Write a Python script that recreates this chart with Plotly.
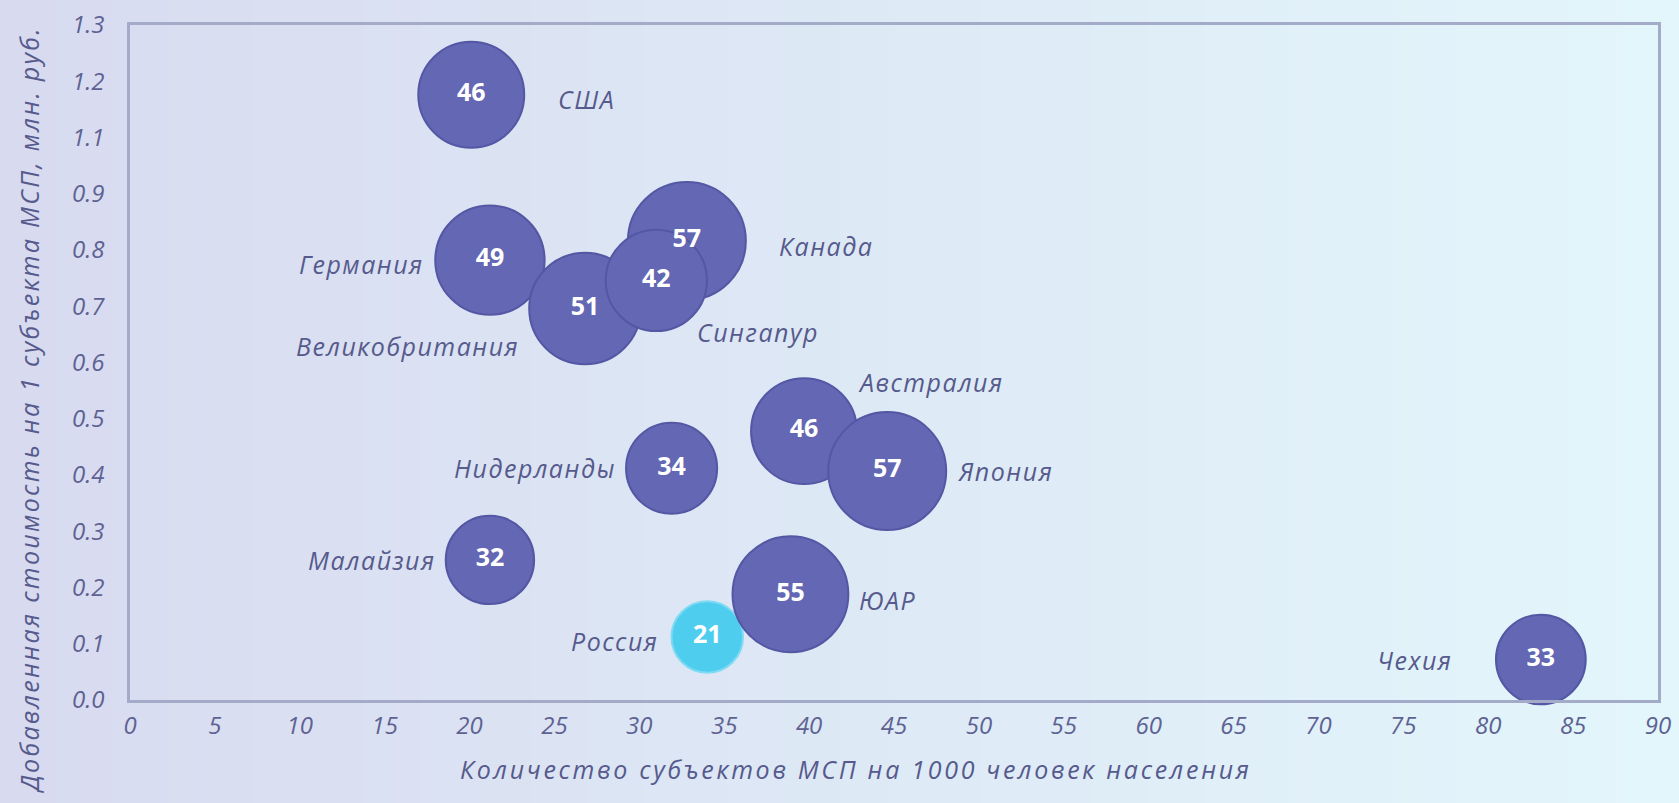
import plotly.graph_objects as go

# values (y in axis units: the axis skips the "1.0" label)
countries = ["США", "Германия", "Канада", "Великобритания", "Сингапур", "Австралия",
             "Япония", "Нидерланды", "Малайзия", "Россия", "ЮАР", "Чехия"]
smb_per_1000 = [20.1, 21.2, 32.8, 26.8, 31.0, 39.7, 44.6, 31.9, 21.2, 34.0, 38.9, 83.1]
value_added = [1.076, 0.782, 0.816, 0.696, 0.746, 0.478, 0.407, 0.412, 0.249, 0.112, 0.188, 0.072]
bubble_value = [46, 49, 57, 51, 42, 46, 57, 34, 32, 21, 55, 33]

y_tickvals = [0.0, 0.1, 0.2, 0.3, 0.4, 0.5, 0.6, 0.7, 0.8, 0.9, 1.0, 1.1, 1.2]
y_ticktext = ["0.0", "0.1", "0.2", "0.3", "0.4", "0.5", "0.6", "0.7", "0.8", "0.9", "1.1", "1.2", "1.3"]

# label offsets (px) from the bubble centre: (xshift, yshift, anchor)
label_pos = {
    "США": (85, -4, "left"),
    "Германия": (-64, -4, "right"),
    "Канада": (90, -5, "left"),
    "Великобритания": (-64, -37, "right"),
    "Сингапур": (39, -52, "left"),
    "Австралия": (52, 49, "left"),
    "Япония": (69, 0, "left"),
    "Нидерланды": (-54, 0, "right"),
    "Малайзия": (-52, 0, "right"),
    "Россия": (-47, -4, "right"),
    "ЮАР": (67, -6, "left"),
    "Чехия": (-87, 0, "right"),
}

FONT = "Open Sans"
TXT = "#565a8c"
fill = ["#4fcdef" if c == "Россия" else "#6467b3" for c in countries]
edge = ["#7fdaf3" if c == "Россия" else "#5457a4" for c in countries]


def spaced(s, px):
    return '<span style="letter-spacing:%spx">%s</span>' % (px, s)


fig = go.Figure()
fig.add_trace(go.Scatter(
    x=smb_per_1000, y=value_added, mode="markers+text",
    text=[str(v) for v in bubble_value], textposition="middle center",
    textfont=dict(family=FONT, size=25, color="white", weight="bold"),
    marker=dict(size=bubble_value, sizemode="area", sizeref=1 / 122.0,
                color=fill, opacity=1, line=dict(color=edge, width=2)),
    cliponaxis=False, hoverinfo="skip", showlegend=False,
))

for c, xv, yv in zip(countries, smb_per_1000, value_added):
    dx, dy, anchor = label_pos[c]
    fig.add_annotation(x=xv, y=yv, text=spaced(c, 1.5), showarrow=False, xanchor=anchor,
                       yanchor="middle", xshift=dx, yshift=dy,
                       font=dict(family=FONT, size=25, color=TXT, style="italic"))

# axis titles as annotations so they sit where the original has them
fig.add_annotation(xref="paper", yref="paper", x=0.475, y=-0.102,
                   text=spaced("Количество субъектов МСП на 1000 человек населения", 2.7),
                   showarrow=False, xanchor="center", yanchor="middle",
                   font=dict(family=FONT, size=25, color=TXT, style="italic"))
fig.add_annotation(xref="paper", yref="paper", x=-0.066, y=0.43, textangle=-90,
                   text=spaced("Добавленная стоимость на 1 субъекта МСП, млн. руб.", 2.3),
                   showarrow=False, xanchor="center", yanchor="middle",
                   font=dict(family=FONT, size=25, color=TXT, style="italic"))

# soft left-to-right background gradient
c0 = (216, 219, 240)
c1 = (227, 246, 251)
n = 60
L, R, T, B = 130, 21, 25, 103
pw, ph = 1679 - L - R, 803 - T - B
x_lo, x_hi = -L / pw, (1679 - L) / pw
for i in range(n):
    t = i / (n - 1)
    col = tuple(int(round(a + (b - a) * t)) for a, b in zip(c0, c1))
    fig.add_shape(type="rect", xref="paper", yref="paper", layer="below",
                  x0=x_lo + (x_hi - x_lo) * i / n, x1=x_lo + (x_hi - x_lo) * (i + 1) / n + 0.002,
                  y0=-B / ph - 0.05, y1=(803 - B) / ph + 0.05,
                  fillcolor="rgb(%d,%d,%d)" % col, line=dict(width=0))

axis_font = dict(family=FONT, size=24, color="#5e6292", style="italic")
fig.update_xaxes(range=[0, 90], dtick=5, tick0=0, showgrid=False, zeroline=False,
                 showline=True, mirror=True, linecolor="#a3abc9", linewidth=2.5,
                 ticks="", tickfont=axis_font, ticklabelstandoff=2,
                 automargin=False, ticklabeloverflow="allow")
fig.update_yaxes(range=[0, 1.2], tickvals=y_tickvals, ticktext=y_ticktext,
                 showgrid=False, zeroline=False, showline=True, mirror=True,
                 linecolor="#a3abc9", linewidth=2.5, ticks="", tickfont=axis_font,
                 ticklabelstandoff=18, automargin=False, ticklabeloverflow="allow")
fig.update_layout(width=1679, height=803,
                  margin=dict(l=L, r=R, t=T, b=B),
                  paper_bgcolor="rgb(221,232,245)", plot_bgcolor="rgba(0,0,0,0)")

fig.write_html("out.html", config={"displayModeBar": False},
               post_script="document.body.style.margin='0';")
